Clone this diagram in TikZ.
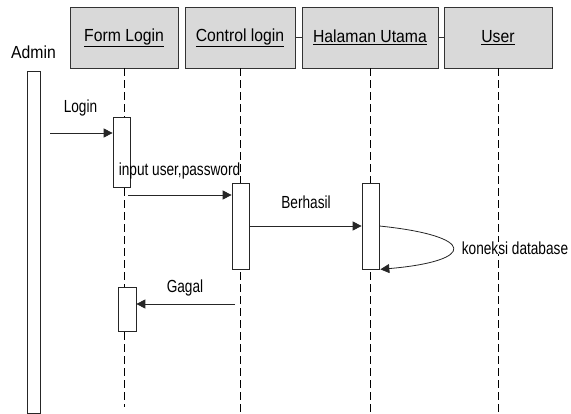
\documentclass[tikz,border=0pt]{standalone}
\usepackage{fontspec}
\setmainfont{Liberation Sans}
\newfontfamily\hfont[FakeStretch=0.9]{Liberation Sans}
\newfontfamily\lfont[FakeStretch=0.78]{Liberation Sans}
\usetikzlibrary{arrows.meta}
\tikzset{
  head/.style={draw=black!80, fill=black!15, line width=0.7pt, minimum height=61pt, inner sep=0pt,
    font=\hfont\fontsize{17.5}{20}\selectfont},
  lifeline/.style={draw=black, line width=0.7pt, dash pattern=on 8pt off 4pt},
  actbox/.style={draw=black!85, fill=white, line width=0.7pt, inner sep=0pt, minimum width=17pt},
  msg/.style={draw=black!85, line width=0.8pt, -{Triangle[length=9pt,width=9pt]}},
  lbl/.style={font=\lfont\fontsize{17.5}{20}\selectfont, inner sep=0pt},
  link/.style={draw=black!80, line width=0.7pt}
}
\begin{document}
\begin{tikzpicture}[x=1pt,y=-1pt]
\useasboundingbox (0,0) rectangle (571,414);
% headers
\node[head, minimum width=108pt] (form) at (124,37.5) {\underline{Form Login}};
\node[head, minimum width=110pt] (ctrl) at (240,37.5) {\underline{Control login}};
\node[head, minimum width=136pt] (hal) at (370,37.5) {\underline{Halaman Utama}};
\node[head, minimum width=108pt] (usr) at (498,37.5) {\underline{User}};
\draw[link] (ctrl.east) -- (hal.west);
\draw[link] (hal.east) -- (usr.west);
% admin
\node[font=\hfont\fontsize{17.5}{20}\selectfont, inner sep=0pt] (admin) at (33.5,52) {Admin};
\node[actbox, minimum width=13pt, minimum height=342pt] (adminbar) at (33.5,242) {};
% lifelines
\coordinate (fend) at (124,407);
\coordinate (cend) at (240,413);
\coordinate (hend) at (370,413);
\coordinate (uend) at (498,413);
\draw[lifeline] (form.south) -- (fend);
\draw[lifeline] (ctrl.south) -- (cend);
\draw[lifeline] (hal.south) -- (hend);
\draw[lifeline] (usr.south) -- (uend);
% activations
\node[actbox, minimum height=70pt] (fa1) at (121.5,152) {};
\node[actbox, minimum width=18pt, minimum height=44pt] (fa2) at (127,309) {};
\node[actbox, minimum height=86pt] (ca) at (240.5,226) {};
\node[actbox, minimum height=86pt] (ha) at (370.5,226) {};
% messages
\coordinate (s1) at (50,133);
\draw[msg] (s1) -- (s1 -| fa1.west);
\node[lbl] (l1) at (80.5,108) {Login};
\coordinate (s2) at (128,195);
\draw[msg] (s2) -- (s2 -| ca.west);
\node[lbl] (l2) at (179.5,171) {input user,password};
\draw[msg] (ca.east) -- (ha.west);
\node[lbl] (l3) at (306,202) {Berhasil};
\draw[msg] (ha.east) .. controls (477,236) and (477,261) .. ([xshift=1pt]ha.south east);
\node[lbl, fill=white] (l4) at (515,248) {koneksi database};
\coordinate (s3) at (235,304);
\draw[msg] (s3) -- (s3 -| fa2.east);
\node[lbl] (l5) at (185,288) {Gagal};
\end{tikzpicture}
\end{document}
